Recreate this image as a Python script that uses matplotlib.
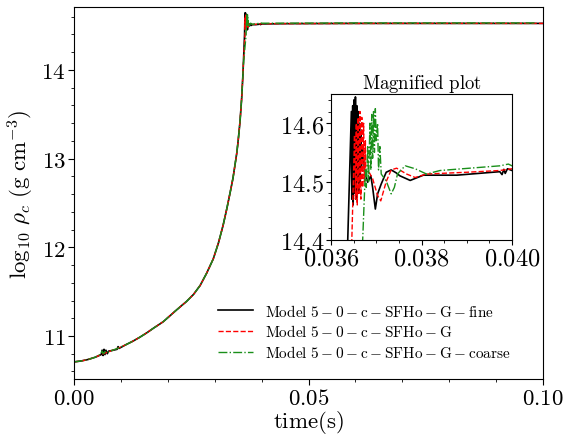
import numpy as np
import matplotlib
matplotlib.use("Agg")
import matplotlib.pyplot as plt
from matplotlib.ticker import FuncFormatter, MultipleLocator

plt.rcParams['mathtext.fontset'] = 'cm'
plt.rcParams['font.family'] = ['DejaVu Serif']

# ---- shared collapse phase (time s, log10 rho_c) ----
t_collapse = [0.0, 0.0015, 0.003, 0.0045, 0.00625, 0.0080, 0.0095, 0.0110, 0.0125,
              0.0140, 0.0155, 0.0170, 0.0190, 0.0205, 0.0220, 0.0240, 0.0255, 0.0269,
              0.0283, 0.0297, 0.0308, 0.0318, 0.0326, 0.0333, 0.0339, 0.0343, 0.0347,
              0.0350, 0.03540, 0.03575, 0.0360, 0.0361]
rho_collapse = [10.708, 10.718, 10.735, 10.76, 10.80, 10.835, 10.865, 10.90, 10.94,
                10.985, 11.035, 11.09, 11.16, 11.23, 11.30, 11.39, 11.47, 11.57,
                11.71, 11.87, 12.05, 12.25, 12.44, 12.62, 12.78, 12.92, 13.06,
                13.20, 13.42, 13.68, 13.93, 14.05]

# ---- model-specific early wiggles ----
t_fine_early = [0.0058, 0.0060, 0.0062, 0.0064, 0.0066, 0.0068, 0.0071, 0.0074, 0.0092, 0.0094, 0.0096]
rho_fine_early = [10.79, 10.84, 10.78, 10.85, 10.79, 10.84, 10.80, 10.83, 10.85, 10.88, 10.86]
t_coarse_early = [0.0057, 0.0060, 0.0063, 0.0066, 0.0070]
rho_coarse_early = [10.795, 10.83, 10.80, 10.825, 10.81]

# ---- bounce / post-bounce: fine ----
t_fine = [0.03637, 0.03645, 0.03646, 0.03648, 0.03649, 0.03651, 0.03652, 0.03654,
          0.03655, 0.03657, 0.03658, 0.03660, 0.03661, 0.03663, 0.03664, 0.03666,
          0.03667, 0.03670, 0.03674, 0.03681, 0.03688, 0.03692, 0.03698, 0.03703,
          0.03711, 0.03722, 0.03733, 0.03744, 0.03752, 0.03775, 0.03804, 0.03878,
          0.03973, 0.03978, 0.03982, 0.03985, 0.03990, 0.04000, 0.045, 0.060,
          0.080, 0.100]
rho_fine = [14.40, 14.62, 14.47, 14.63, 14.46, 14.64, 14.48, 14.645,
            14.47, 14.63, 14.50, 14.62, 14.48, 14.60, 14.50, 14.58,
            14.52, 14.56, 14.519, 14.499, 14.51, 14.49, 14.453, 14.479,
            14.496, 14.516, 14.52, 14.515, 14.510, 14.502, 14.511, 14.511,
            14.517, 14.512, 14.521, 14.514, 14.522, 14.519, 14.522, 14.525,
            14.525, 14.525]

# ---- bounce / post-bounce: standard ----
t_std = [0.03646, 0.03652, 0.03654, 0.03656, 0.03658, 0.03660, 0.03662, 0.03664,
         0.03666, 0.03668, 0.03670, 0.03672, 0.03674, 0.03676, 0.03677, 0.03685,
         0.03692, 0.03703, 0.03710, 0.03722, 0.03733, 0.03745, 0.03767, 0.03786,
         0.03811, 0.03900, 0.03973, 0.04000, 0.050, 0.070, 0.100]
rho_std = [14.40, 14.58, 14.47, 14.60, 14.46, 14.61, 14.48, 14.62,
           14.47, 14.61, 14.49, 14.60, 14.50, 14.57, 14.513, 14.515,
           14.505, 14.476, 14.467, 14.50, 14.52, 14.523, 14.513, 14.507,
           14.513, 14.516, 14.519, 14.522, 14.523, 14.525, 14.525]

# ---- bounce / post-bounce: coarse ----
t_coarse = [0.03670, 0.03676, 0.03678, 0.03681, 0.03683, 0.03686, 0.03688, 0.03690,
            0.03692, 0.03694, 0.03696, 0.03698, 0.03700, 0.03703, 0.03705, 0.03708,
            0.03711, 0.03722, 0.03733, 0.03740, 0.03747, 0.03755, 0.03764, 0.03786,
            0.03811, 0.03841, 0.03973, 0.03992, 0.04000, 0.060, 0.0983]
rho_coarse = [14.40, 14.52, 14.49, 14.56, 14.50, 14.60, 14.52, 14.615,
              14.54, 14.62, 14.55, 14.625, 14.57, 14.60, 14.52, 14.56,
              14.513, 14.501, 14.479, 14.49, 14.513, 14.52, 14.527, 14.522,
              14.513, 14.519, 14.527, 14.530, 14.527, 14.53, 14.53]

labels = [r'$\mathrm{Model\ 5-0-c-SFHo-G-fine}$',
          r'$\mathrm{Model\ 5-0-c-SFHo-G}$',
          r'$\mathrm{Model\ 5-0-c-SFHo-G-coarse}$']


def build(t_early, r_early, t_b, r_b):
    t = np.array(t_collapse + t_early + t_b)
    r = np.array(rho_collapse + r_early + r_b)
    o = np.argsort(t, kind='stable')
    return t[o], r[o]


series = [
    (build(t_fine_early, rho_fine_early, t_fine, rho_fine), dict(color='black', ls='-', lw=1.2)),
    (build([], [], t_std, rho_std), dict(color='red', ls='--', lw=1.0)),
    (build(t_coarse_early, rho_coarse_early, t_coarse, rho_coarse), dict(color='#1a8f1a', ls='-.', lw=1.0)),
]

fig = plt.figure(figsize=(5.65, 4.35), dpi=100)
ax = fig.add_axes([74/565, 55/435, 469/565, 372/435])

for (t, r), st in series:
    ax.plot(t, r, **st)

handles = ax.get_lines()
ax.legend(handles, labels, loc='lower right', frameon=False, fontsize=11,
          bbox_to_anchor=(0.945, 0.035), handlelength=2.3, labelspacing=0.3,
          borderaxespad=0.0, handletextpad=0.8)

ax.set_xlim(0.0, 0.1)
ax.set_ylim(10.515, 14.71)
ax.xaxis.set_major_locator(MultipleLocator(0.05))
ax.xaxis.set_minor_locator(MultipleLocator(0.01))
ax.yaxis.set_major_locator(MultipleLocator(1))
ax.yaxis.set_minor_locator(MultipleLocator(0.2))
ax.xaxis.set_major_formatter(FuncFormatter(lambda v, p: r'$%.2f$' % v))
ax.yaxis.set_major_formatter(FuncFormatter(lambda v, p: r'$%d$' % round(v)))
ax.tick_params(which='major', direction='out', length=4, labelsize=16.5, pad=2)
ax.tick_params(which='minor', direction='out', length=2.5)
ax.set_xlabel(r'$\mathrm{time(s)}$', fontsize=16.5, labelpad=-1)
ax.set_ylabel(r'$\log_{10}\,\rho_c\ (\mathrm{g\ cm^{-3}})$', fontsize=16.5, labelpad=4)

# ---- inset ----
axi = fig.add_axes([331/565, 194/435, 181/565, 146/435])
for (t, r), st in series:
    axi.plot(t, r, **st)
axi.set_xlim(0.036, 0.040)
axi.set_ylim(14.4, 14.65)
axi.xaxis.set_major_locator(MultipleLocator(0.002))
axi.xaxis.set_minor_locator(MultipleLocator(0.0005))
axi.yaxis.set_major_locator(MultipleLocator(0.1))
axi.yaxis.set_minor_locator(MultipleLocator(0.02))
axi.xaxis.set_major_formatter(FuncFormatter(lambda v, p: r'$%.3f$' % v))
axi.yaxis.set_major_formatter(FuncFormatter(lambda v, p: r'$%.1f$' % v))
axi.tick_params(which='major', direction='out', length=3.5, labelsize=17.5, pad=1.5)
axi.tick_params(which='minor', direction='out', length=2)
axi.set_title(r'$\mathrm{Magnified\ plot}$', fontsize=13.5, pad=3)

fig.savefig('out.png', dpi=100)
